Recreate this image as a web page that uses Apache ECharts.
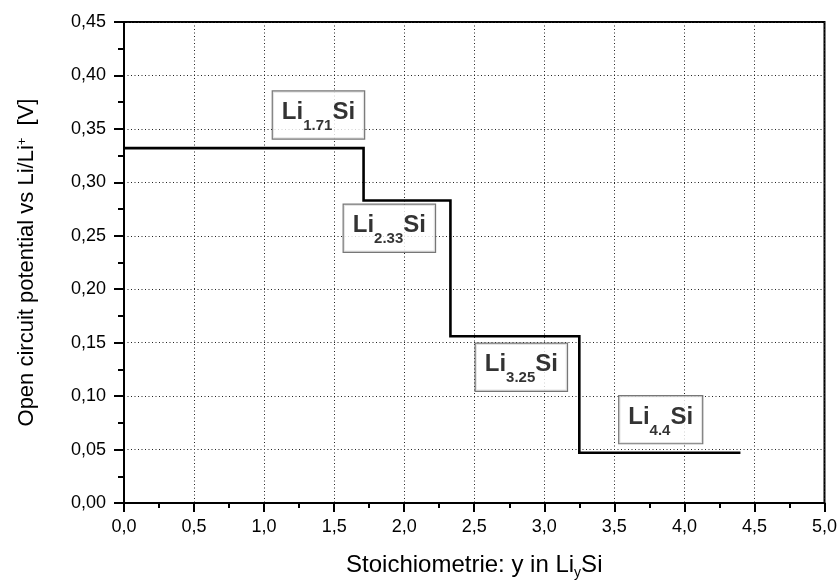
<!DOCTYPE html>
<html>
<head>
<meta charset="utf-8">
<script src="https://cdn.jsdelivr.net/npm/echarts@6/dist/echarts.min.js"></script>
<style>
  html, body { margin: 0; padding: 0; background: #fff; }
  #chart { width: 840px; height: 585px; }
</style>
</head>
<body>
<div id="chart"></div>
<script>
// Li–Si phases: stoichiometry y at the end of each plateau and its open circuit potential (V)
const phaseY = [1.71, 2.33, 3.25, 4.4];
const phaseLabels = ['1.71', '2.33', '3.25', '4.4'];
const plateauVoltage = [0.332, 0.283, 0.156, 0.047];
const startY = 0;

// Axis ranges and ticks
const xTicks = { min: 0, max: 5, interval: 0.5 };
const yTicks = { min: 0, max: 0.45, interval: 0.05 };

// Step curve: each plateau runs from the previous phase boundary to its own
const stepPoints = [];
phaseY.forEach((y, i) => {
  const x0 = i === 0 ? startY : phaseY[i - 1];
  stepPoints.push([x0, plateauVoltage[i]]);
  stepPoints.push([y, plateauVoltage[i]]);
});

// Where each phase-name box sits (data coordinates of the box centre)
const boxAnchors = [
  [1.388, 0.363],
  [1.894, 0.257],
  [2.836, 0.127],
  [3.831, 0.078]
];

const FONT = '"Liberation Sans", Arial, sans-serif';
const comma = (v, d) => v.toFixed(d).replace('.', ',');

const chart = echarts.init(document.getElementById('chart'), null, { renderer: 'canvas' });

const axisLineStyle = { color: '#000', width: 2 };
const gridLine = { type: [1, 2.5], color: '#222', width: 1 };

chart.setOption({
  animation: false,
  backgroundColor: '#fff',
  grid: {
    left: 124, right: 14, top: 22, bottom: 78,
    show: true, borderColor: '#000', borderWidth: 2, backgroundColor: 'transparent'
  },
  xAxis: {
    type: 'value',
    min: xTicks.min, max: xTicks.max, interval: xTicks.interval,
    name: 'Stoichiometrie: y in Li{sub|y}Si',
    nameLocation: 'middle',
    nameGap: 48,
    nameTextStyle: {
      fontFamily: FONT, fontSize: 24, color: '#000',
      rich: {
        sub: { fontFamily: FONT, fontSize: 14, color: '#000', verticalAlign: 'top', padding: [15, 0, 0, 0] }
      }
    },
    axisLine: { onZero: false, lineStyle: axisLineStyle },
    axisTick: { length: 9, lineStyle: { color: '#000', width: 2 } },
    minorTick: { show: true, splitNumber: 2, length: 5, lineStyle: { color: '#000', width: 2 } },
    axisLabel: {
      fontFamily: FONT, fontSize: 18, color: '#000', margin: 15,
      formatter: v => comma(v, 1)
    },
    splitLine: { show: true, lineStyle: gridLine }
  },
  yAxis: {
    type: 'value',
    min: yTicks.min, max: yTicks.max, interval: yTicks.interval,
    name: 'Open circuit potential vs Li/Li{sup|+}  [V]',
    nameLocation: 'middle',
    nameGap: 86,
    nameTextStyle: {
      fontFamily: FONT, fontSize: 22, color: '#000',
      rich: {
        sup: { fontFamily: FONT, fontSize: 13, color: '#000', verticalAlign: 'top' }
      }
    },
    axisLine: { onZero: false, lineStyle: axisLineStyle },
    axisTick: { length: 10, lineStyle: { color: '#000', width: 2 } },
    minorTick: { show: true, splitNumber: 2, length: 6, lineStyle: { color: '#000', width: 2 } },
    axisLabel: {
      fontFamily: FONT, fontSize: 18, color: '#000', margin: 18,
      formatter: v => comma(v, 2)
    },
    splitLine: { show: true, lineStyle: gridLine }
  },
  series: [
    {
      type: 'line',
      data: stepPoints,
      showSymbol: false,
      lineStyle: { color: '#000', width: 2.6, join: 'miter' },
      z: 3
    },
    {
      type: 'scatter',
      data: boxAnchors.map((p, i) => ({ value: p, name: phaseLabels[i] })),
      symbolSize: 0,
      silent: true,
      z: 5,
      label: {
        show: true,
        position: 'inside',
        formatter: p => '{el|Li}{sub|' + p.name + '}{el|Si}',
        backgroundColor: '#fff',
        borderColor: '#555',
        borderWidth: 1.2,
        padding: [9, 9, 5, 9],
        rich: {
          el: { fontFamily: FONT, fontSize: 24, fontWeight: 'bold', color: '#000', verticalAlign: 'top' },
          sub: { fontFamily: FONT, fontSize: 15, fontWeight: 'bold', color: '#000', verticalAlign: 'top', padding: [18, 0, 0, 0] }
        }
      }
    }
  ]
});
</script>
</body>
</html>
